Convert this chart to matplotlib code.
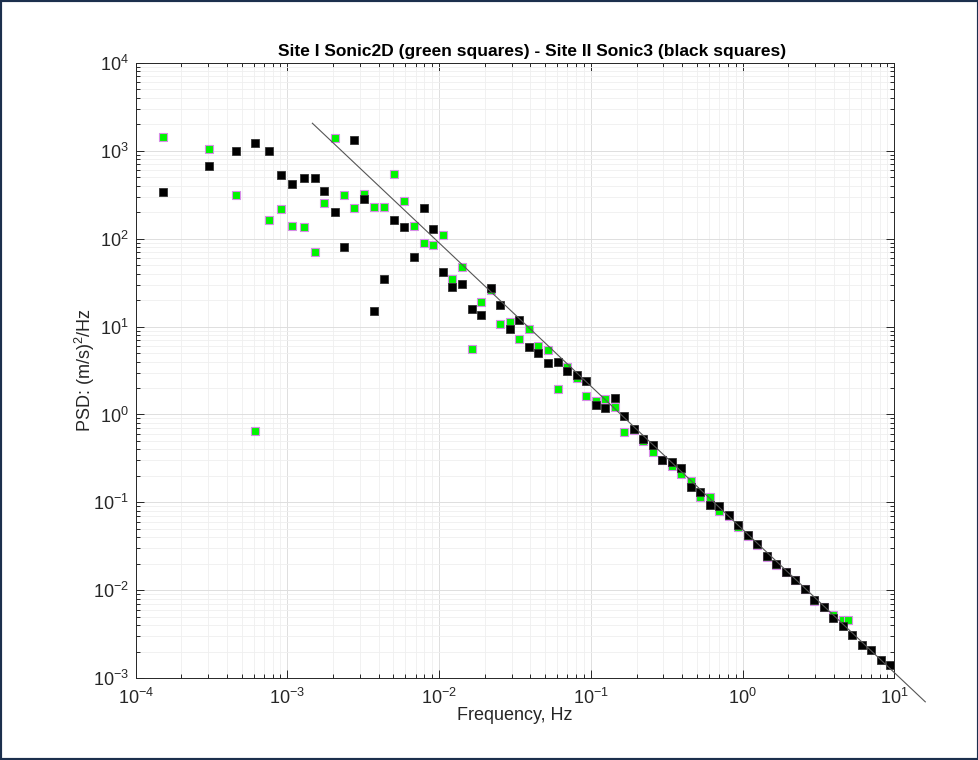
import matplotlib
matplotlib.use("Agg")
import matplotlib.pyplot as plt
from matplotlib.patches import Rectangle
from matplotlib.ticker import LogLocator, LogFormatterMathtext, NullFormatter

plt.rcParams['font.family'] = ['Liberation Sans', 'DejaVu Sans']
plt.rcParams['mathtext.fontset'] = 'custom'
plt.rcParams['mathtext.rm'] = 'Liberation Sans'
plt.rcParams['mathtext.it'] = 'Liberation Sans:italic'
plt.rcParams['mathtext.bf'] = 'Liberation Sans:bold'
plt.rcParams['axes.unicode_minus'] = False

# ---- data ----
freq = [1.52e-4, 3.04e-4, 4.56e-4, 6.09e-4, 7.6e-4, 9.12e-4, 1.067e-3, 1.286e-3,
        1.52e-3, 1.75e-3, 2.05e-3, 2.36e-3, 2.73e-3, 3.2e-3, 3.73e-3, 4.35e-3,
        5.04e-3, 5.87e-3, 6.83e-3, 7.92e-3, 9.16e-3, 1.056e-2, 1.22e-2, 1.416e-2,
        1.64e-2, 1.9e-2, 2.2e-2, 2.53e-2, 2.93e-2, 3.38e-2, 3.92e-2, 4.51e-2,
        5.25e-2, 6.05e-2, 6.97e-2, 8.07e-2, 9.3e-2, 0.1077, 0.1247, 0.144,
        0.1656, 0.192, 0.222, 0.256, 0.295, 0.341, 0.395, 0.458,
        0.527, 0.608, 0.703, 0.811, 0.938, 1.082, 1.247, 1.445,
        1.66, 1.93, 2.22, 2.57, 2.97, 3.43, 3.97, 4.57,
        5.29, 6.1, 7.03, 8.15, 9.38]

psd_black = [342, 675, 1000, 1223, 985, 530, 422, 493,
             493, 346, 199, 81, 1323, 283, 15.1, 34.3,
             163, 135, 62, 223, 129, 41.5, 28.5, 30.2,
             15.9, 13.7, 27.5, 17.8, 9.4, 12.0, 5.9, 4.98,
             3.84, 3.94, 3.16, 2.83, 2.43, 1.28, 1.19, 1.53,
             0.96, 0.68, 0.525, 0.453, 0.304, 0.291, 0.245, 0.15,
             0.133, 0.0925, 0.090, 0.0725, 0.0558, 0.0427, 0.0337, 0.0243,
             0.0201, 0.0162, 0.01324, 0.01045, 0.00784, 0.00647, 0.00485, 0.00397,
             0.00314, 0.00242, 0.00212, 0.00163, 0.00143]

freq_green = [1.52e-4, 3.04e-4, 4.56e-4, 6.09e-4, 7.6e-4, 9.12e-4, 1.067e-3, 1.286e-3,
              1.52e-3, 1.75e-3, 2.05e-3, 2.36e-3, 2.73e-3, 3.2e-3, 3.73e-3, 4.35e-3,
              5.04e-3, 5.87e-3, 6.83e-3, 7.92e-3, 9.16e-3, 1.056e-2, 1.22e-2, 1.416e-2,
              1.64e-2, 1.9e-2, 2.2e-2, 2.53e-2, 2.93e-2, 3.38e-2, 3.92e-2, 4.51e-2,
              5.25e-2, 6.05e-2, 6.97e-2, 8.07e-2, 9.3e-2, 0.1077, 0.1247, 0.144,
              0.1656, 0.192, 0.222, 0.256, 0.295, 0.341, 0.395, 0.458,
              0.527, 0.608, 0.703, 0.811, 0.938, 1.082, 1.247, 1.445,
              1.66, 1.93, 2.22, 2.57, 2.97, 3.43, 3.97, 4.57, 4.98]

psd_green = [1420, 1037, 311, 0.641, 164, 216, 138, 135,
             71, 252, 1384, 311, 221, 324, 231, 231,
             539, 270, 138, 90, 85, 110, 35, 48,
             5.58, 19.2, 26, 10.6, 11.4, 7.3, 9.4, 6.0,
             5.48, 1.95, 3.45, 2.6, 1.61, 1.41, 1.49, 1.21,
             0.64, 0.66, 0.50, 0.373, 0.30, 0.26, 0.21, 0.173,
             0.115, 0.115, 0.080, 0.070, 0.052, 0.042, 0.033, 0.024,
             0.0195, 0.016, 0.013, 0.0103, 0.0075, 0.0064, 0.0052, 0.00456, 0.00456]

ref_f = [1.46e-3, 16.0]
ref_psd = [2050, 5.4e-4]

title = 'Site I Sonic2D (green squares) - Site II Sonic3 (black squares)'
xlabel = 'Frequency, Hz'
ylabel = 'PSD: (m/s)$^2$/Hz'

# ---- figure ----
fig = plt.figure(figsize=(9.79, 7.6), dpi=100)
ax = fig.add_axes([0.1386, 0.1075, 0.7749, 0.81])

ax.set_xscale('log')
ax.set_yscale('log')
ax.set_xlim(1e-4, 1e1)
ax.set_ylim(1e-3, 1e4)

axc = '#262626'
ax.grid(True, which='major', color='#dedede', lw=0.7)
ax.grid(True, which='minor', color='#efefef', lw=0.6)
ax.set_axisbelow(True)

ax.plot(freq_green, psd_green, 's', ms=5.2, mfc='#00f500', mec='#d78be8', mew=0.8, zorder=3)
ax.plot(freq, psd_black, 's', ms=5.2, mfc='black', mec='#333333', mew=0.6, zorder=4)
ax.plot(ref_f, ref_psd, '-', color='#555555', lw=0.8, clip_on=False, zorder=5)

ax.xaxis.set_major_locator(LogLocator(base=10, numticks=20))
ax.yaxis.set_major_locator(LogLocator(base=10, numticks=20))
ax.xaxis.set_minor_locator(LogLocator(base=10, subs=range(2, 10), numticks=20))
ax.yaxis.set_minor_locator(LogLocator(base=10, subs=range(2, 10), numticks=20))
ax.xaxis.set_major_formatter(LogFormatterMathtext())
ax.yaxis.set_major_formatter(LogFormatterMathtext())
ax.xaxis.set_minor_formatter(NullFormatter())
ax.yaxis.set_minor_formatter(NullFormatter())

ax.tick_params(which='both', direction='in', top=True, right=True, colors=axc,
               labelsize=13, width=0.7)
ax.tick_params(which='major', length=6)
ax.tick_params(which='minor', length=3)
ax.tick_params(axis='x', which='major', pad=7)
ax.tick_params(axis='y', which='major', pad=5)
for s in ax.spines.values():
    s.set_color(axc)
    s.set_linewidth(0.7)

ax.set_title(title, fontsize=12.5, fontweight='bold', color='black', x=0.523, pad=5)
ax.set_xlabel(xlabel, fontsize=13, color=axc, labelpad=-1)
ax.set_ylabel(ylabel, fontsize=13, color=axc, labelpad=-3)

fig.patches.append(Rectangle((0, 0), 1, 1, transform=fig.transFigure, fill=False,
                             edgecolor='#1c2f4d', lw=3, zorder=10))

fig.savefig('out.png', dpi=100, facecolor='white')
